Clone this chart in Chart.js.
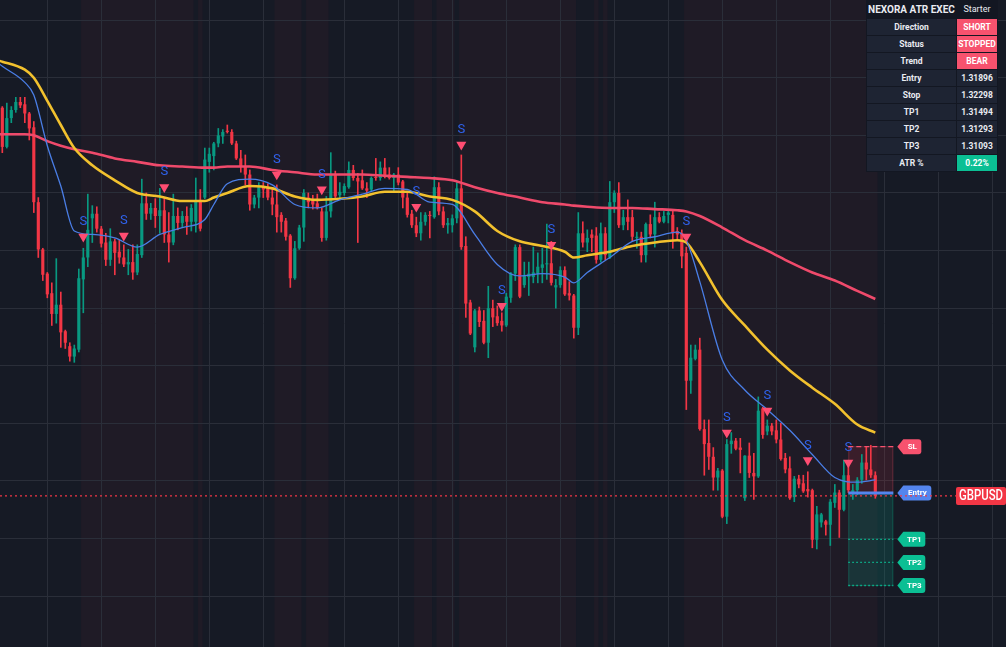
<!DOCTYPE html>
<html>
<head>
<meta charset="utf-8">
<script src="https://cdn.jsdelivr.net/npm/chart.js@4.4.1/dist/chart.umd.min.js"></script>
<style>
	html, body { margin: 0; padding: 0; background: #161a25; }
	#wrap { position: relative; width: 1006px; height: 647px; overflow: hidden; }
	#chart { position: absolute; left: 0; top: 0; }
	table.panel {
		position: absolute; left: 866px; top: 0;
		border-collapse: separate; border-spacing: 1px;
		background: #131722; color: #e9ebf1;
		font-family: Roboto, 'Noto Sans', sans-serif; font-weight: bold; font-size: 8.5px;
	}
	table.panel td { padding: 0; text-align: center; height: 16px; line-height: 16px; background: #1e2433; }
	table.panel td.name { width: 89px; }
	table.panel td.val { width: 40px; }
	table.panel tr.head td { height: 17px; line-height: 17px; background: #131722; }
	table.panel tr.head td.name { font-size: 10px; }
	table.panel tr.head td.val { font-weight: normal; font-size: 9px; }
	table.panel td.bad { background: #f7526e; color: #fff; }
	table.panel td.good { background: #0bbf94; color: #fff; }
</style>
</head>
<body>
<div id="wrap">
	<canvas id="chart" width="1006" height="647"></canvas>
	<table class="panel" id="panel"></table>
</div>
<script>
const open_prices = [
	1.3524, 1.3490, 1.3515, 1.3522, 1.3529, 1.3527, 1.3519, 1.3507, 1.3442, 1.3401,
	1.3380, 1.3363, 1.3345, 1.3353, 1.3330, 1.3317, 1.3308, 1.3314, 1.3375, 1.3394,
	1.3428, 1.3432, 1.3419, 1.3407, 1.3392, 1.3408, 1.3399, 1.3394, 1.3388, 1.3390,
	1.3381, 1.3396, 1.3441, 1.3432, 1.3437, 1.3430, 1.3435, 1.3414, 1.3407, 1.3430,
	1.3424, 1.3430, 1.3425, 1.3425, 1.3444, 1.3446, 1.3477, 1.3482, 1.3493, 1.3499,
	1.3504, 1.3503, 1.3493, 1.3480, 1.3473, 1.3466, 1.3440, 1.3446, 1.3456, 1.3455,
	1.3446, 1.3440, 1.3431, 1.3426, 1.3413, 1.3376, 1.3402, 1.3420, 1.3446, 1.3444,
	1.3441, 1.3434, 1.3411, 1.3434, 1.3466, 1.3448, 1.3450, 1.3455, 1.3470, 1.3463,
	1.3461, 1.3454, 1.3453, 1.3464, 1.3463, 1.3472, 1.3466, 1.3463, 1.3466, 1.3460,
	1.3446, 1.3432, 1.3422, 1.3415, 1.3425, 1.3431, 1.3429, 1.3455, 1.3434, 1.3422,
	1.3422, 1.3428, 1.3454, 1.3404, 1.3355, 1.3316, 1.3348, 1.3339, 1.3320, 1.3350,
	1.3343, 1.3339, 1.3335, 1.3359, 1.3380, 1.3403, 1.3370, 1.3377, 1.3377, 1.3380,
	1.3385, 1.3388, 1.3389, 1.3368, 1.3370, 1.3383, 1.3363, 1.3361, 1.3333, 1.3415,
	1.3407, 1.3414, 1.3413, 1.3392, 1.3415, 1.3394, 1.3442, 1.3450, 1.3422, 1.3429,
	1.3429, 1.3411, 1.3412, 1.3396, 1.3423, 1.3414, 1.3429, 1.3425, 1.3431, 1.3431,
	1.3417, 1.3415, 1.3398, 1.3287, 1.3306, 1.3314, 1.3245, 1.3233, 1.3221, 1.3203,
	1.3209, 1.3169, 1.3232, 1.3235, 1.3229, 1.3185, 1.3222, 1.3207, 1.3204, 1.3263,
	1.3243, 1.3248, 1.3244, 1.3236, 1.3220, 1.3211, 1.3186, 1.3202, 1.3198, 1.3193,
	1.3192, 1.3149, 1.3164, 1.3165, 1.3162, 1.3181, 1.3190, 1.3175, 1.3205, 1.3190,
	1.3192, 1.3201, 1.3216, 1.3210, 1.3205,
]
const high_prices = [
	1.3525, 1.3528, 1.3525, 1.3533, 1.3533, 1.3533, 1.3520, 1.3512, 1.3446, 1.3402,
	1.3381, 1.3372, 1.3393, 1.3364, 1.3331, 1.3320, 1.3318, 1.3384, 1.3402, 1.3449,
	1.3439, 1.3438, 1.3421, 1.3415, 1.3419, 1.3410, 1.3409, 1.3405, 1.3401, 1.3405,
	1.3405, 1.3462, 1.3450, 1.3441, 1.3445, 1.3454, 1.3446, 1.3433, 1.3449, 1.3437,
	1.3434, 1.3438, 1.3440, 1.3463, 1.3453, 1.3489, 1.3489, 1.3494, 1.3506, 1.3505,
	1.3509, 1.3505, 1.3495, 1.3487, 1.3483, 1.3470, 1.3448, 1.3459, 1.3459, 1.3458,
	1.3453, 1.3457, 1.3433, 1.3428, 1.3414, 1.3408, 1.3422, 1.3453, 1.3450, 1.3448,
	1.3449, 1.3437, 1.3447, 1.3485, 1.3469, 1.3459, 1.3458, 1.3477, 1.3474, 1.3467,
	1.3470, 1.3459, 1.3464, 1.3480, 1.3477, 1.3480, 1.3472, 1.3467, 1.3472, 1.3461,
	1.3450, 1.3435, 1.3429, 1.3433, 1.3433, 1.3434, 1.3464, 1.3459, 1.3438, 1.3428,
	1.3431, 1.3459, 1.3483, 1.3412, 1.3357, 1.3349, 1.3351, 1.3348, 1.3369, 1.3357,
	1.3352, 1.3346, 1.3363, 1.3381, 1.3405, 1.3405, 1.3390, 1.3390, 1.3403, 1.3398,
	1.3402, 1.3423, 1.3408, 1.3375, 1.3386, 1.3386, 1.3373, 1.3362, 1.3433, 1.3425,
	1.3418, 1.3418, 1.3420, 1.3424, 1.3420, 1.3460, 1.3452, 1.3459, 1.3435, 1.3444,
	1.3435, 1.3416, 1.3416, 1.3424, 1.3431, 1.3442, 1.3433, 1.3434, 1.3434, 1.3435,
	1.3420, 1.3418, 1.3403, 1.3318, 1.3318, 1.3324, 1.3253, 1.3253, 1.3229, 1.3211,
	1.3210, 1.3236, 1.3242, 1.3237, 1.3237, 1.3222, 1.3233, 1.3224, 1.3273, 1.3264,
	1.3253, 1.3250, 1.3253, 1.3250, 1.3224, 1.3221, 1.3204, 1.3205, 1.3205, 1.3208,
	1.3193, 1.3178, 1.3172, 1.3166, 1.3184, 1.3197, 1.3192, 1.3218, 1.3218, 1.3197,
	1.3203, 1.3223, 1.3230, 1.3231, 1.3208,
]
const low_prices = [
	1.3485, 1.3489, 1.3511, 1.3520, 1.3524, 1.3511, 1.3496, 1.3433, 1.3394, 1.3374,
	1.3359, 1.3335, 1.3337, 1.3316, 1.3315, 1.3304, 1.3303, 1.3312, 1.3346, 1.3386,
	1.3407, 1.3416, 1.3403, 1.3387, 1.3387, 1.3379, 1.3389, 1.3386, 1.3379, 1.3375,
	1.3379, 1.3394, 1.3427, 1.3427, 1.3420, 1.3415, 1.3407, 1.3390, 1.3405, 1.3418,
	1.3420, 1.3414, 1.3417, 1.3416, 1.3417, 1.3445, 1.3468, 1.3470, 1.3490, 1.3493,
	1.3502, 1.3492, 1.3479, 1.3468, 1.3457, 1.3435, 1.3437, 1.3437, 1.3446, 1.3444,
	1.3431, 1.3416, 1.3416, 1.3409, 1.3368, 1.3375, 1.3401, 1.3408, 1.3437, 1.3436,
	1.3436, 1.3408, 1.3409, 1.3429, 1.3446, 1.3446, 1.3448, 1.3454, 1.3461, 1.3407,
	1.3453, 1.3446, 1.3452, 1.3461, 1.3461, 1.3463, 1.3462, 1.3451, 1.3457, 1.3437,
	1.3429, 1.3420, 1.3412, 1.3409, 1.3422, 1.3411, 1.3428, 1.3431, 1.3420, 1.3415,
	1.3416, 1.3424, 1.3401, 1.3342, 1.3327, 1.3312, 1.3334, 1.3319, 1.3307, 1.3334,
	1.3335, 1.3330, 1.3334, 1.3355, 1.3374, 1.3359, 1.3368, 1.3361, 1.3372, 1.3372,
	1.3372, 1.3375, 1.3370, 1.3350, 1.3368, 1.3361, 1.3357, 1.3324, 1.3327, 1.3403,
	1.3399, 1.3399, 1.3389, 1.3390, 1.3392, 1.3393, 1.3433, 1.3420, 1.3418, 1.3418,
	1.3408, 1.3402, 1.3390, 1.3390, 1.3411, 1.3403, 1.3424, 1.3424, 1.3424, 1.3402,
	1.3409, 1.3385, 1.3262, 1.3276, 1.3305, 1.3244, 1.3205, 1.3210, 1.3192, 1.3192,
	1.3168, 1.3163, 1.3224, 1.3227, 1.3207, 1.3183, 1.3203, 1.3184, 1.3203, 1.3237,
	1.3240, 1.3240, 1.3233, 1.3218, 1.3207, 1.3184, 1.3182, 1.3194, 1.3190, 1.3186,
	1.3142, 1.3141, 1.3160, 1.3153, 1.3144, 1.3177, 1.3151, 1.3174, 1.3190, 1.3184,
	1.3188, 1.3198, 1.3201, 1.3203, 1.3185,
]
const close_prices = [
	1.3490, 1.3515, 1.3522, 1.3529, 1.3526, 1.3519, 1.3506, 1.3442, 1.3401, 1.3379,
	1.3362, 1.3345, 1.3353, 1.3329, 1.3320, 1.3308, 1.3315, 1.3376, 1.3394, 1.3418,
	1.3432, 1.3419, 1.3406, 1.3392, 1.3408, 1.3398, 1.3394, 1.3388, 1.3390, 1.3381,
	1.3397, 1.3441, 1.3432, 1.3437, 1.3430, 1.3435, 1.3414, 1.3407, 1.3430, 1.3424,
	1.3430, 1.3425, 1.3437, 1.3444, 1.3419, 1.3479, 1.3484, 1.3493, 1.3500, 1.3503,
	1.3503, 1.3493, 1.3480, 1.3473, 1.3466, 1.3440, 1.3446, 1.3455, 1.3453, 1.3446,
	1.3440, 1.3429, 1.3425, 1.3412, 1.3376, 1.3402, 1.3420, 1.3450, 1.3442, 1.3440,
	1.3437, 1.3411, 1.3434, 1.3466, 1.3447, 1.3451, 1.3456, 1.3470, 1.3463, 1.3460,
	1.3454, 1.3452, 1.3463, 1.3463, 1.3472, 1.3464, 1.3463, 1.3466, 1.3459, 1.3446,
	1.3431, 1.3422, 1.3415, 1.3425, 1.3431, 1.3430, 1.3455, 1.3434, 1.3422, 1.3424,
	1.3428, 1.3454, 1.3403, 1.3354, 1.3328, 1.3348, 1.3338, 1.3320, 1.3350, 1.3342,
	1.3337, 1.3335, 1.3360, 1.3380, 1.3403, 1.3360, 1.3378, 1.3380, 1.3381, 1.3386,
	1.3388, 1.3389, 1.3372, 1.3370, 1.3383, 1.3362, 1.3361, 1.3333, 1.3415, 1.3407,
	1.3411, 1.3411, 1.3392, 1.3415, 1.3396, 1.3442, 1.3450, 1.3422, 1.3429, 1.3425,
	1.3412, 1.3412, 1.3396, 1.3423, 1.3414, 1.3429, 1.3425, 1.3430, 1.3433, 1.3415,
	1.3414, 1.3395, 1.3287, 1.3307, 1.3314, 1.3245, 1.3232, 1.3221, 1.3203, 1.3209,
	1.3169, 1.3232, 1.3235, 1.3228, 1.3227, 1.3222, 1.3207, 1.3204, 1.3261, 1.3240,
	1.3248, 1.3243, 1.3236, 1.3219, 1.3210, 1.3185, 1.3202, 1.3197, 1.3191, 1.3191,
	1.3149, 1.3171, 1.3171, 1.3162, 1.3182, 1.3190, 1.3175, 1.3205, 1.3192, 1.3192,
	1.3201, 1.3216, 1.3210, 1.3205, 1.3187,
]

// moving averages, sampled at these bar indices
const ma_idx = [
	-1, 0, 5, 7, 10, 13, 16, 20, 25, 30, 35, 40, 45, 47, 50, 55, 60, 65, 70, 75,
	80, 85, 90, 95, 100, 105, 110, 115, 120, 125, 127, 130, 135, 140, 145, 150, 152, 155, 160, 165,
	170, 175, 180, 185, 190, 194,
]
const ma_slow = [
	1.3501, 1.3501, 1.3501, 1.3500, 1.3495, 1.3491, 1.3488, 1.3485, 1.3480, 1.3477,
	1.3474, 1.3473, 1.3472, 1.3472, 1.3473, 1.3473, 1.3470, 1.3468, 1.3466, 1.3466,
	1.3466, 1.3465, 1.3464, 1.3463, 1.3461, 1.3455, 1.3450, 1.3446, 1.3442, 1.3440,
	1.3439, 1.3438, 1.3437, 1.3437, 1.3436, 1.3435, 1.3434, 1.3430, 1.3420, 1.3409,
	1.3400, 1.3390, 1.3381, 1.3374, 1.3365, 1.3358,
]
const ma_mid = [
	1.3565, 1.3564, 1.3557, 1.3550, 1.3530, 1.3509, 1.3489, 1.3474, 1.3461, 1.3450,
	1.3447, 1.3443, 1.3443, 1.3446, 1.3450, 1.3456, 1.3454, 1.3447, 1.3444, 1.3445,
	1.3447, 1.3451, 1.3451, 1.3447, 1.3444, 1.3434, 1.3417, 1.3408, 1.3404, 1.3399,
	1.3394, 1.3396, 1.3399, 1.3404, 1.3407, 1.3409, 1.3407, 1.3390, 1.3357, 1.3335,
	1.3314, 1.3296, 1.3281, 1.3267, 1.3249, 1.3242,
]
const ma_fast = [
	1.3563, 1.3560, 1.3546, 1.3535, 1.3491, 1.3456, 1.3417, 1.3414, 1.3411, 1.3403,
	1.3414, 1.3420, 1.3427, 1.3440, 1.3458, 1.3462, 1.3457, 1.3440, 1.3437, 1.3444,
	1.3449, 1.3454, 1.3453, 1.3442, 1.3440, 1.3414, 1.3388, 1.3378, 1.3380, 1.3377,
	1.3372, 1.3381, 1.3394, 1.3408, 1.3412, 1.3416, 1.3409, 1.3373, 1.3305, 1.3279,
	1.3262, 1.3244, 1.3223, 1.3203, 1.3199, 1.3201,
]

const signal_idx = [18, 27, 36, 61, 71, 92, 102, 111, 122, 152, 161, 170, 179, 188]
const signal_price = [
	1.3412, 1.3413, 1.3455, 1.3466, 1.3453, 1.3438, 1.3492, 1.3352, 1.3405, 1.3412,
	1.3242, 1.3261, 1.3218, 1.3216,
]

// bearish regime shading, first and last bar of each run
const bear_runs = [
	[18, 42], [44, 44], [61, 66], [68, 72], [92, 95], [97, 100], [102, 127],
	[132, 132], [134, 134], [152, 194],
]

const time_ticks = [10, 22, 34, 46, 58, 76, 88, 100, 112, 124, 136, 148, 160, 172, 184, 196, 208, 220]
const price_ticks = [1.310, 1.315, 1.320, 1.325, 1.330, 1.335, 1.340, 1.345, 1.350, 1.355, 1.360]

const symbol = 'GBPUSD'
const trade_from = 188
const trade_to = 198
const trade_levels = { SL: 1.32298, Entry: 1.31896, TP1: 1.31494, TP2: 1.31293, TP3: 1.31093 }

const panel_title = ['NEXORA ATR EXEC', 'Starter']
const panel_names = ['Direction', 'Status', 'Trend', 'Entry', 'Stop', 'TP1', 'TP2', 'TP3', 'ATR %']
const panel_values = ['SHORT', 'STOPPED', 'BEAR', '1.31896', '1.32298', '1.31494', '1.31293', '1.31093', '0.22%']
const panel_marks = ['bad', 'bad', 'bad', '', '', '', '', '', 'good']

const BG = '#161a25'
const BAND = '#1f1b26'
const GRID = '#2a2e39'
const GREEN = '#089981'
const RED = '#f23645'
const PINK = '#f7526e'
const TRI = '#ff4d72'
const SIGNAL_BLUE = '#2f62ec'
const TEAL = '#0bbf94'
const ENTRY_BLUE = '#5485ee'

function build_panel () {
	const table = document.getElementById('panel')
	let html = `<tr class="head"><td class="name">${panel_title[0]}</td><td class="val">${panel_title[1]}</td></tr>`
	panel_names.forEach(function (name, idx) {
		html += `<tr><td class="name">${name}</td><td class="val ${panel_marks[idx]}">${panel_values[idx]}</td></tr>`
	})
	table.innerHTML = html
}

function draw_tag (ctx, x, y, w, text, color) {
	const h = 15
	const t = y - h / 2
	const b = y + h / 2
	ctx.fillStyle = color
	ctx.beginPath()
	ctx.moveTo(x, y)
	ctx.lineTo(x + 6, t)
	ctx.lineTo(x + w - 3, t)
	ctx.quadraticCurveTo(x + w, t, x + w, t + 3)
	ctx.lineTo(x + w, b - 3)
	ctx.quadraticCurveTo(x + w, b, x + w - 3, b)
	ctx.lineTo(x + 6, b)
	ctx.closePath()
	ctx.fill()
	ctx.fillStyle = '#ffffff'
	ctx.font = 'bold 8px Roboto, "Noto Sans", sans-serif'
	ctx.textAlign = 'center'
	ctx.textBaseline = 'middle'
	ctx.fillText(text, x + 6 + (w - 6) / 2, y + 0.5)
}

const backdrop = {
	id: 'backdrop',
	beforeDraw (chart) {
		const { ctx, chartArea, scales } = chart
		ctx.save()
		ctx.fillStyle = BG
		ctx.fillRect(0, 0, chart.width, chart.height)
		ctx.fillStyle = BAND
		for (const [a, b] of bear_runs) {
			const x0 = scales.x.getPixelForValue(a - 0.5)
			const x1 = scales.x.getPixelForValue(b + 0.5)
			ctx.fillRect(x0, chartArea.top, x1 - x0, chartArea.bottom - chartArea.top)
		}
		ctx.restore()
	},
	beforeDatasetsDraw (chart) {
		const { ctx, scales } = chart
		const x0 = scales.x.getPixelForValue(trade_from)
		const x1 = scales.x.getPixelForValue(trade_to)
		const y_sl = scales.y.getPixelForValue(trade_levels.SL)
		const y_en = scales.y.getPixelForValue(trade_levels.Entry)
		const y_tp = scales.y.getPixelForValue(trade_levels.TP3)
		ctx.save()
		ctx.fillStyle = 'rgba(242, 54, 69, 0.13)'
		ctx.fillRect(x0, y_sl, x1 - x0, y_en - y_sl)
		ctx.fillStyle = 'rgba(8, 153, 129, 0.2)'
		ctx.fillRect(x0, y_en, x1 - x0, y_tp - y_en)
		ctx.lineWidth = 1
		ctx.strokeStyle = 'rgba(247, 82, 110, 0.25)'
		ctx.strokeRect(x0 + 0.5, y_sl, x1 - x0 - 1, y_en - y_sl)
		ctx.strokeStyle = 'rgba(11, 191, 148, 0.25)'
		ctx.strokeRect(x0 + 0.5, y_en, x1 - x0 - 1, y_tp - y_en)
		ctx.restore()
	},
	afterDatasetsDraw (chart) {
		const { ctx, scales, chartArea } = chart
		const x0 = scales.x.getPixelForValue(trade_from)
		const x1 = scales.x.getPixelForValue(trade_to)
		ctx.save()

		// sell signal letters above the triangles
		const meta = chart.getDatasetMeta(0)
		ctx.fillStyle = SIGNAL_BLUE
		ctx.font = '13px Roboto, "Noto Sans", sans-serif'
		ctx.textAlign = 'center'
		ctx.textBaseline = 'middle'
		for (const el of meta.data) ctx.fillText('S', el.x, el.y - 15)

		// trade levels
		ctx.lineWidth = 1.3
		ctx.setLineDash([5, 3])
		ctx.strokeStyle = PINK
		let y = scales.y.getPixelForValue(trade_levels.SL)
		ctx.beginPath(); ctx.moveTo(x0, y); ctx.lineTo(x1, y); ctx.stroke()
		ctx.setLineDash([1.5, 2.5])
		ctx.strokeStyle = TEAL
		for (const key of ['TP1', 'TP2', 'TP3']) {
			y = scales.y.getPixelForValue(trade_levels[key])
			ctx.beginPath(); ctx.moveTo(x0, y); ctx.lineTo(x1, y); ctx.stroke()
		}
		ctx.setLineDash([])
		ctx.lineWidth = 3
		ctx.strokeStyle = ENTRY_BLUE
		y = scales.y.getPixelForValue(trade_levels.Entry)
		ctx.beginPath(); ctx.moveTo(x0, y); ctx.lineTo(x1, y); ctx.stroke()

		const tag_x = x1 + 4
		draw_tag(ctx, tag_x, scales.y.getPixelForValue(trade_levels.SL), 24, 'SL', PINK)
		draw_tag(ctx, tag_x, scales.y.getPixelForValue(trade_levels.Entry), 34, 'Entry', ENTRY_BLUE)
		draw_tag(ctx, tag_x, scales.y.getPixelForValue(trade_levels.TP1), 28, 'TP1', TEAL)
		draw_tag(ctx, tag_x, scales.y.getPixelForValue(trade_levels.TP2), 28, 'TP2', TEAL)
		draw_tag(ctx, tag_x, scales.y.getPixelForValue(trade_levels.TP3), 28, 'TP3', TEAL)

		// last price line and symbol label
		const last = close_prices[close_prices.length - 1]
		const y_last = scales.y.getPixelForValue(last)
		const label_x = chartArea.right - 50
		ctx.lineWidth = 1.3
		ctx.setLineDash([2, 3])
		ctx.strokeStyle = RED
		ctx.beginPath(); ctx.moveTo(chartArea.left, y_last); ctx.lineTo(label_x, y_last); ctx.stroke()
		ctx.setLineDash([])
		ctx.fillStyle = RED
		ctx.beginPath()
		ctx.roundRect(label_x, y_last - 9, 50, 18, 2)
		ctx.fill()
		ctx.fillStyle = '#ffffff'
		ctx.font = '500 14px Roboto, "Noto Sans", sans-serif'
		ctx.textAlign = 'center'
		ctx.fillText(symbol, label_x + 25, y_last + 0.5, 44)
		ctx.restore()
	},
}

function main () {
	build_panel()
	const bar_idx = open_prices.map((_, idx) => idx)
	const candle_colors = bar_idx.map(idx => close_prices[idx] >= open_prices[idx] ? GREEN : RED)
	const ma_points = list => ma_idx.map((x, idx) => ({ x, y: list[idx] }))

	const ctx = document.getElementById('chart').getContext('2d')
	new Chart(ctx, {
		type: 'bar',
		data: {
			datasets: [
				{
					type: 'line',
					label: 'Sell',
					data: signal_idx.map((x, idx) => ({ x, y: signal_price[idx] })),
					showLine: false,
					pointStyle: 'triangle',
					rotation: 180,
					pointRadius: 5.8,
					backgroundColor: TRI,
					borderWidth: 0,
					order: 0,
				},
				{
					type: 'line',
					label: 'Fast MA',
					data: ma_points(ma_fast),
					borderColor: '#4a7ee6',
					borderWidth: 1.3,
					pointRadius: 0,
					cubicInterpolationMode: 'monotone',
					order: 1,
				},
				{
					type: 'line',
					label: 'Mid MA',
					data: ma_points(ma_mid),
					borderColor: '#f2c12e',
					borderWidth: 2.6,
					pointRadius: 0,
					cubicInterpolationMode: 'monotone',
					order: 2,
				},
				{
					type: 'line',
					label: 'Slow MA',
					data: ma_points(ma_slow),
					borderColor: '#ef4a6b',
					borderWidth: 2.6,
					pointRadius: 0,
					cubicInterpolationMode: 'monotone',
					order: 3,
				},
				{
					label: 'Body',
					data: bar_idx.map(idx => ({ x: idx, y: [open_prices[idx], close_prices[idx]] })),
					backgroundColor: candle_colors,
					barPercentage: 0.7,
					categoryPercentage: 1,
					grouped: false,
					minBarLength: 1,
					order: 4,
				},
				{
					label: 'Wick',
					data: bar_idx.map(idx => ({ x: idx, y: [low_prices[idx], high_prices[idx]] })),
					backgroundColor: candle_colors,
					barThickness: 1,
					grouped: false,
					order: 5,
				},
			],
		},
		options: {
			responsive: false,
			animation: false,
			layout: { padding: 0, autoPadding: false },
			plugins: { legend: { display: false }, tooltip: { enabled: false } },
			scales: {
				x: {
					type: 'linear',
					offset: false,
					min: -0.511,
					max: 223.044,
					afterBuildTicks: axis => { axis.ticks = time_ticks.map(value => ({ value })) },
					ticks: { display: false },
					grid: { color: GRID, drawTicks: false, offset: false },
					border: { display: false },
				},
				y: {
					type: 'linear',
					min: 1.30559,
					max: 1.36175,
					afterBuildTicks: axis => { axis.ticks = price_ticks.map(value => ({ value })) },
					ticks: { display: false },
					grid: { color: GRID, drawTicks: false },
					border: { display: false },
				},
			},
		},
		plugins: [backdrop],
	})
}

main()
</script>
</body>
</html>
